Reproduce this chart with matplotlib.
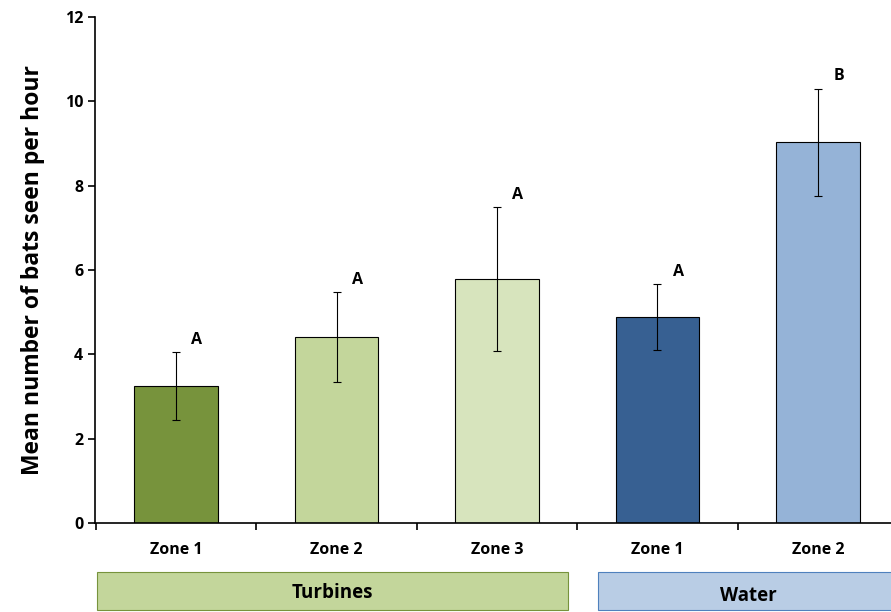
import numpy as np
import matplotlib.pyplot as plt
from matplotlib.patches import Rectangle

zones = ["Zone 1", "Zone 2", "Zone 3", "Zone 1", "Zone 2"]
means = [3.25, 4.41, 5.79, 4.88, 9.03]
errors = [0.8, 1.07, 1.7, 0.78, 1.27]
letters = ["A", "A", "A", "A", "B"]
colors = ["#77933C", "#C3D69B", "#D7E4BD", "#376092", "#95B3D7"]

plt.rcParams['font.family'] = ['Open Sans', 'DejaVu Sans']

fig = plt.figure(figsize=(8.91, 6.12), dpi=100)
ax = fig.add_axes([0.1066, 0.1454, 0.8934, 0.8268])
x = np.arange(len(means))
ax.bar(x, means, width=0.52, color=colors, edgecolor="black", linewidth=0.8,
       yerr=errors, error_kw=dict(ecolor="black", elinewidth=0.8, capsize=3, capthick=0.8))
for xi, m, e, l in zip(x, means, errors, letters):
    ax.text(xi + 0.13, m + e + 0.1, l, ha="center", va="bottom", fontsize=11.5, fontweight="bold")

ax.set_xlim(-0.505, 4.455)
ax.set_ylim(0, 12)
ax.set_yticks(range(0, 13, 2))
ax.set_xticks(x)
ax.set_xticklabels(zones, fontsize=11.5, fontweight="bold")
ax.set_xticks(np.arange(-0.5, 4.5, 1), minor=True)
ax.tick_params(axis="x", which="major", length=0, pad=14)
ax.tick_params(axis="x", which="minor", length=5, direction="out", width=1.2)
ax.tick_params(axis="y", direction="out", length=5, width=1.2, labelsize=11.5)
for lab in ax.get_yticklabels():
    lab.set_fontweight("bold")
ax.spines["top"].set_visible(False)
ax.spines["right"].set_visible(False)
ax.spines["left"].set_linewidth(1.2)
ax.spines["bottom"].set_linewidth(1.2)
ax.set_ylabel("Mean number of bats seen per hour", fontsize=16.5, fontweight="bold", labelpad=14)

# group boxes
fig.patches.append(Rectangle((97 / 891, 2 / 612), 471 / 891, 38 / 612, transform=fig.transFigure,
                             facecolor="#C3D69B", edgecolor="#77933C", linewidth=0.8))
fig.text(332 / 891, 19 / 612, "Turbines", ha="center", va="center", fontsize=13.5, fontweight="bold")
fig.patches.append(Rectangle((598 / 891, 2 / 612), 300 / 891, 38 / 612, transform=fig.transFigure,
                             facecolor="#B9CDE5", edgecolor="#4F81BD", linewidth=0.8))
fig.text(748 / 891, 16 / 612, "Water", ha="center", va="center", fontsize=13.5, fontweight="bold")

fig.savefig("out.png", dpi=100)
